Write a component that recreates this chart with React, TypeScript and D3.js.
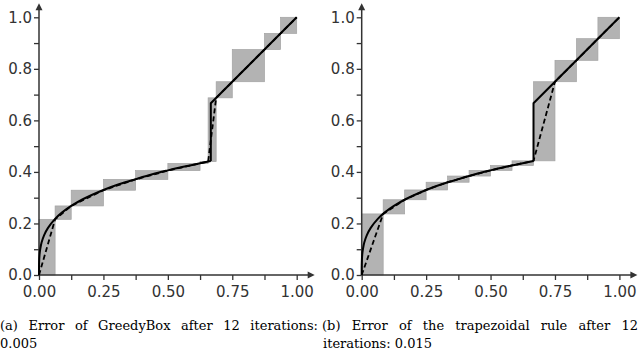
import React, { useEffect, useRef } from "react";
import * as d3 from "d3";

// function (lower branch, up to the jump at x = 2/3)
const curveX = [0, 0.0005, 0.002, 0.005, 0.01, 0.02, 0.035, 0.0625, 0.09, 0.125, 0.17, 0.25, 0.31, 0.375, 0.44, 0.5, 0.56, 0.625, 0.6667];
const curveY = [0, 0.05, 0.078, 0.102, 0.126, 0.155, 0.183, 0.218, 0.243, 0.268, 0.294, 0.33, 0.352, 0.372, 0.391, 0.406, 0.42, 0.434, 0.442];
// upper branch: jump then straight line
const upperX = [0.6667, 0.6667, 1];
const upperY = [0.442, 0.6667, 1];

// GreedyBox boxes (edges and function values at edges)
const greedyEdges = [0, 0.0625, 0.125, 0.25, 0.375, 0.5, 0.625, 0.65625, 0.6875, 0.75, 0.875, 0.9375, 1];
const greedyValues = [0, 0.216, 0.268, 0.329, 0.371, 0.405, 0.433, 0.44, 0.6875, 0.75, 0.875, 0.9375, 1];

// trapezoidal rule boxes
const trapEdges = [0, 1 / 12, 2 / 12, 3 / 12, 4 / 12, 5 / 12, 6 / 12, 7 / 12, 8 / 12, 9 / 12, 10 / 12, 11 / 12, 1];
const trapValues = [0, 0.237, 0.292, 0.33, 0.36, 0.384, 0.406, 0.425, 0.443, 0.75, 0.833, 0.917, 1];

const xTicks = [0, 0.125, 0.25, 0.375, 0.5, 0.625, 0.75, 0.875, 1];
const yTicks = [0, 0.1, 0.2, 0.3, 0.4, 0.5, 0.6, 0.7, 0.8, 0.9, 1];

const captionA = ["(a) Error of GreedyBox after 12 iterations:", "0.005"];
const captionB = ["(b) Error of the trapezoidal rule after 12", "iterations: 0.015"];

const size = 257.7;
const axisColor = "#333";

function drawPanel(g: any, edges: number[], values: number[]) {
  const x = d3.scaleLinear().domain([0, 1]).range([0, size]);
  const y = d3.scaleLinear().domain([0, 1]).range([size, 0]);

  // boxes
  const boxes = edges.slice(0, -1).map((e, i) => ({ x0: e, x1: edges[i + 1], y0: values[i], y1: values[i + 1] }));
  g.selectAll("rect.box")
    .data(boxes)
    .enter()
    .append("rect")
    .attr("class", "box")
    .attr("x", (d: any) => x(d.x0))
    .attr("y", (d: any) => y(d.y1))
    .attr("width", (d: any) => x(d.x1) - x(d.x0))
    .attr("height", (d: any) => y(d.y0) - y(d.y1))
    .attr("fill", "#b3b3b3")
    .attr("stroke", "#a3a3a3")
    .attr("stroke-width", 0.7);

  // x axis
  const xAxis = d3.axisBottom(x)
    .tickValues(xTicks)
    .tickSize(5)
    .tickSizeOuter(0)
    .tickPadding(6)
    .tickFormat((d: any) => (Math.abs((d * 4) - Math.round(d * 4)) < 1e-6 ? d3.format(".2f")(d) : ""));
  const gx = g.append("g").attr("transform", `translate(0,${size})`).call(xAxis);
  gx.select(".domain").remove();

  const yAxis = d3.axisLeft(y)
    .tickValues(yTicks)
    .tickSize(5)
    .tickSizeOuter(0)
    .tickPadding(2)
    .tickFormat((d: any) => (Math.round(d * 10) % 2 === 0 ? d3.format(".1f")(d) : ""));
  const gy = g.append("g").call(yAxis);
  gy.select(".domain").remove();

  [gx, gy].forEach((a: any) => {
    a.selectAll("line").attr("stroke", axisColor).attr("stroke-width", 1.3);
    a.selectAll("text")
      .attr("fill", axisColor)
      .style("font-family", "'DejaVu Sans', sans-serif")
      .style("font-size", "15px");
  });

  // axis lines with arrows
  g.append("line").attr("x1", 0).attr("y1", size).attr("x2", size + 13).attr("y2", size)
    .attr("stroke", axisColor).attr("stroke-width", 1.5);
  g.append("path")
    .attr("d", `M${size + 18},${size} L${size + 11},${size - 3.5} L${size + 11},${size + 3.5} Z`)
    .attr("fill", axisColor);
  g.append("line").attr("x1", 0).attr("y1", size).attr("x2", 0).attr("y2", -9)
    .attr("stroke", axisColor).attr("stroke-width", 1.5);
  g.append("path")
    .attr("d", `M0,-14 L-3.5,-7 L3.5,-7 Z`)
    .attr("fill", axisColor);

  // dashed approximation through box corners
  const line = d3.line<number>().x((d, i) => x(edges[i])).y((d) => y(d));
  g.append("path")
    .attr("d", line(values))
    .attr("fill", "none")
    .attr("stroke", "#000")
    .attr("stroke-width", 1.8)
    .attr("stroke-dasharray", "5,3");

  // true function
  const curve = d3.line<number>().x((d, i) => x(curveX[i])).y((d) => y(d)).curve(d3.curveCatmullRom);
  g.append("path")
    .attr("d", curve(curveY))
    .attr("fill", "none")
    .attr("stroke", "#000")
    .attr("stroke-width", 2);
  const upper = d3.line<number>().x((d, i) => x(upperX[i])).y((d) => y(d));
  g.append("path")
    .attr("d", upper(upperY))
    .attr("fill", "none")
    .attr("stroke", "#000")
    .attr("stroke-width", 2);
}

// justified caption line: words spread between x0 and x1
function justified(g: any, text: string, x0: number, x1: number, yPos: number) {
  const words = text.split(" ");
  const nodes = words.map((w) => g.append("text").attr("y", yPos).text(w));
  const widths = nodes.map((n: any) => n.node().getComputedTextLength());
  const total = d3.sum(widths);
  const gap = (x1 - x0 - total) / (words.length - 1);
  let cx = x0;
  nodes.forEach((n: any, i: number) => {
    n.attr("x", cx);
    cx += widths[i] + gap;
  });
}

export default function App() {
  const ref = useRef<SVGSVGElement>(null);

  useEffect(() => {
    const svg = d3.select(ref.current);
    svg.selectAll("*").remove();

    drawPanel(svg.append("g").attr("transform", `translate(39,${275 - size})`), greedyEdges, greedyValues);
    drawPanel(svg.append("g").attr("transform", `translate(361.7,${275 - size})`), trapEdges, trapValues);

    // captions
    const cap = svg.append("g")
      .style("font-family", "'DejaVu Serif', serif")
      .style("font-size", "13px")
      .attr("fill", "#000");
    justified(cap, captionA[0], 0, 318, 330);
    cap.append("text").attr("x", 0).attr("y", 348).text(captionA[1]);
    justified(cap, captionB[0], 322, 638, 330);
    cap.append("text").attr("x", 323).attr("y", 348).text(captionB[1]);
  }, []);

  return (
    <svg ref={ref} width={640} height={350} style={{ position: "absolute", left: 0, top: 0, background: "#fff" }} />
  );
}
